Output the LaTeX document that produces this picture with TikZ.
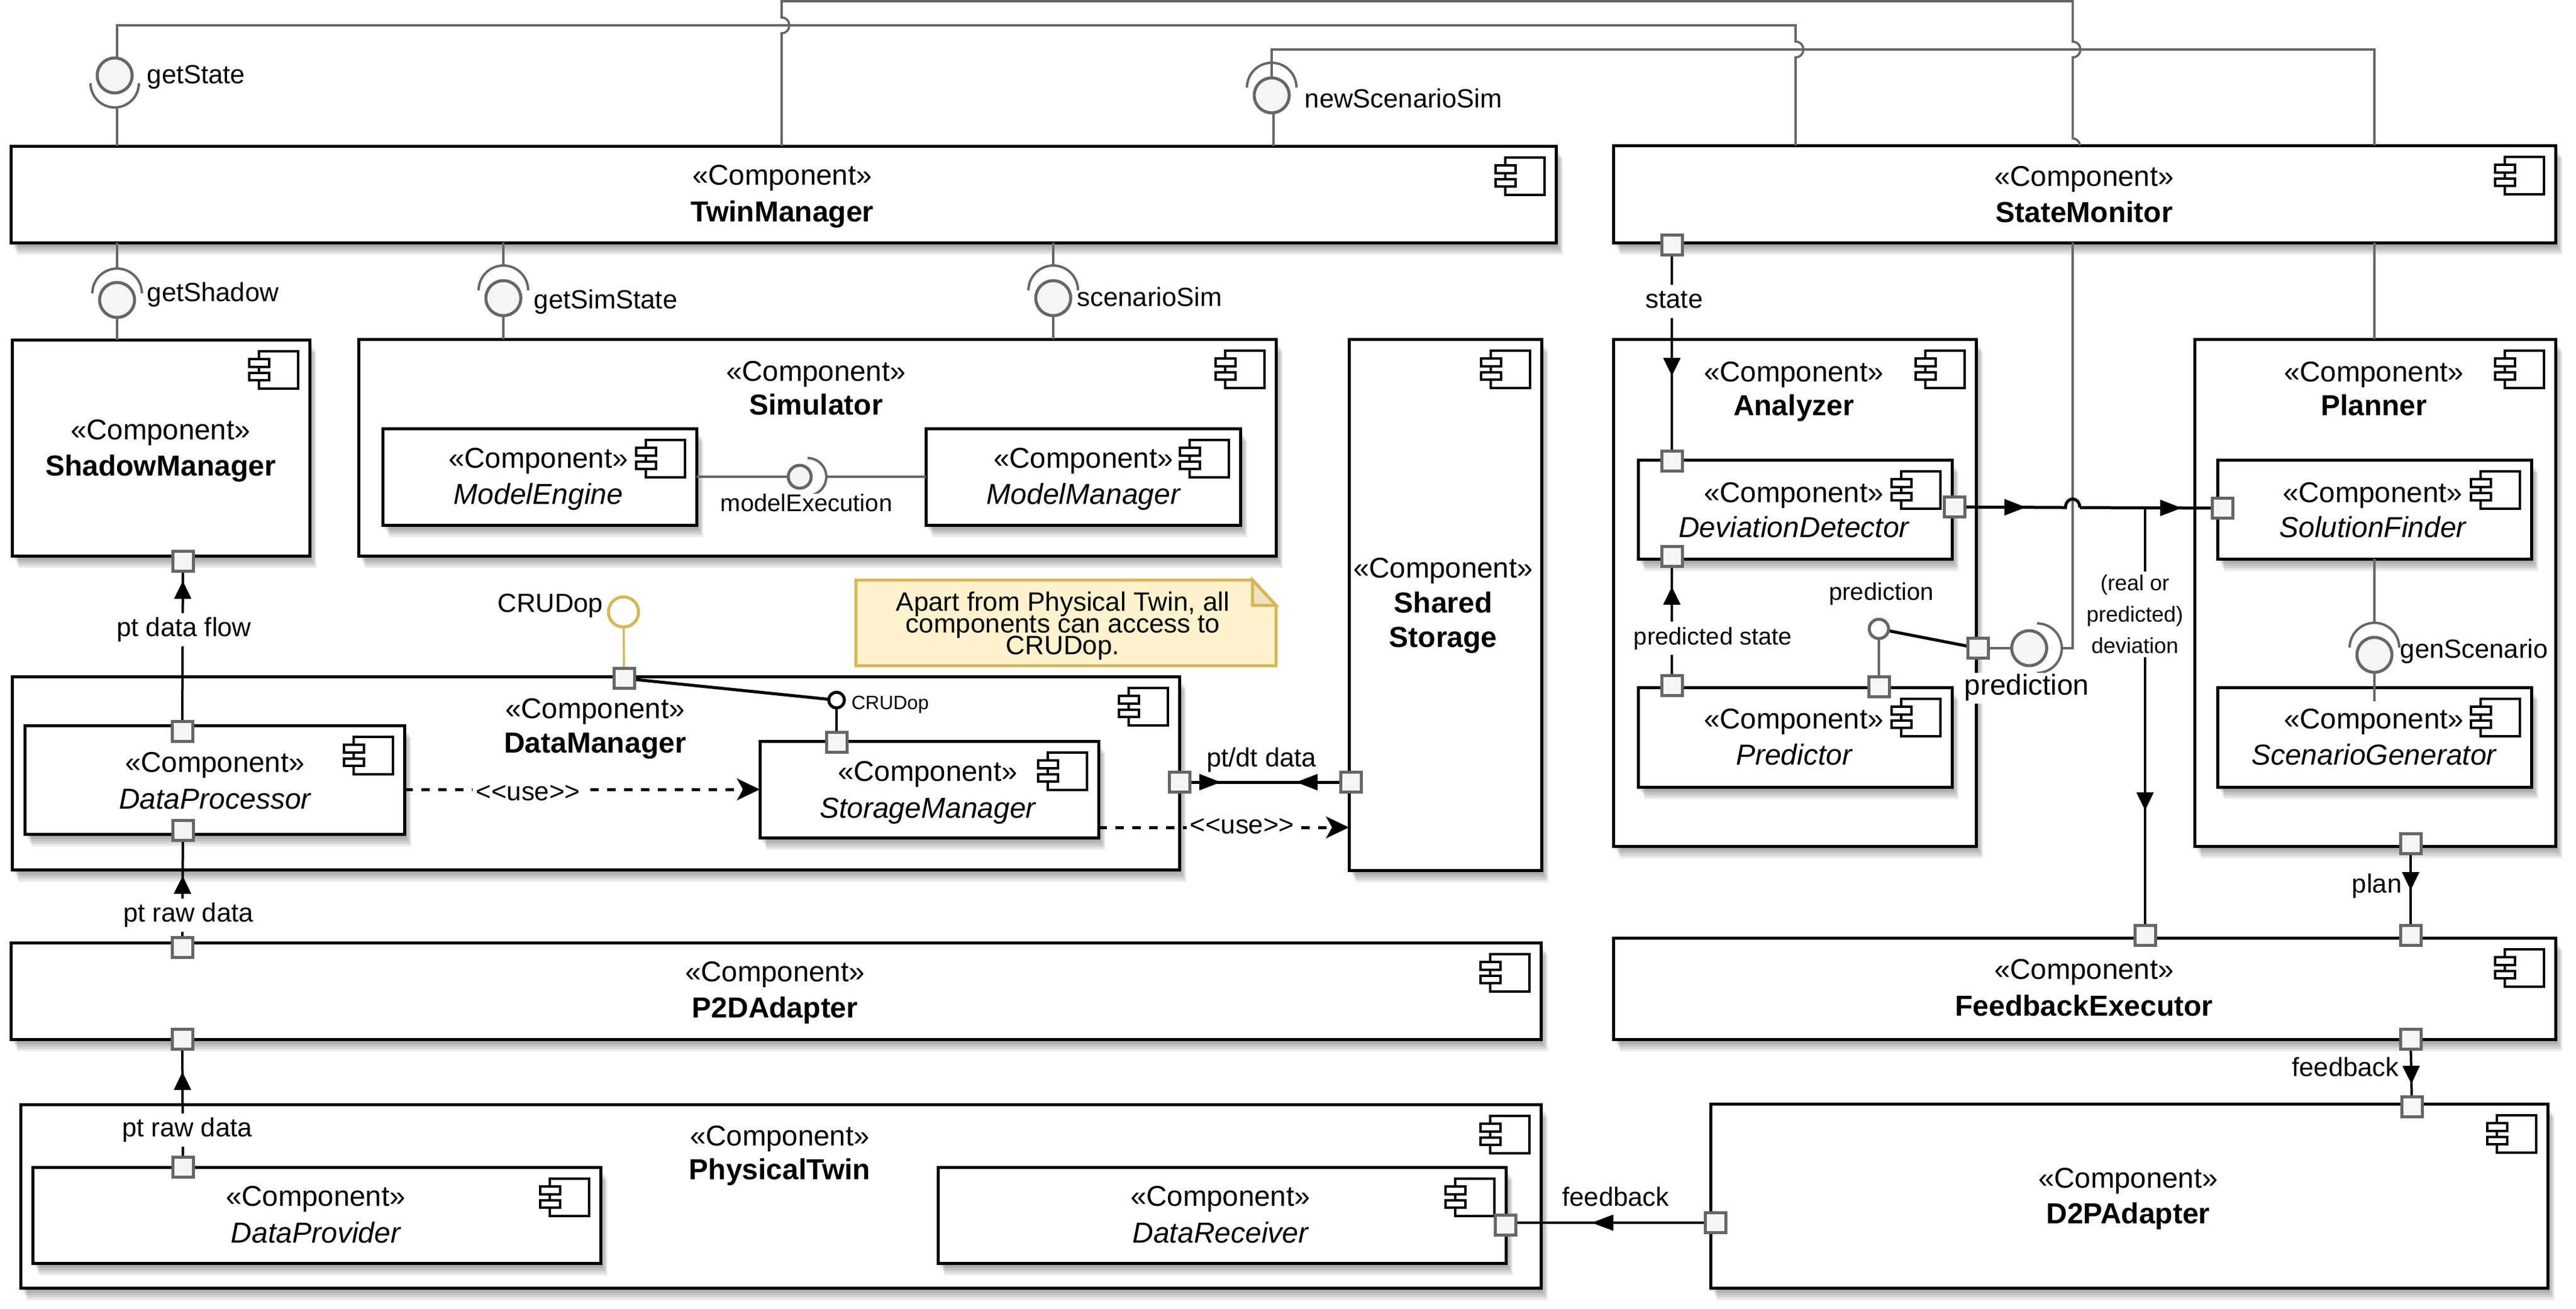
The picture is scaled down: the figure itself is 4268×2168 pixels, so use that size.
\documentclass[tikz,border=0pt]{standalone}
\usepackage{fontspec}
\setmainfont{Liberation Sans}
\usetikzlibrary{arrows.meta,shadows,decorations.markings}
\normallineskiplimit=-20pt
\lineskiplimit=-20pt
\definecolor{wiregrey}{HTML}{666666}
\definecolor{portfill}{HTML}{F5F5F5}
\definecolor{notefill}{HTML}{FFF2CC}
\definecolor{notefold}{HTML}{EDE2C2}
\definecolor{noteline}{HTML}{D6B656}
\pgfdeclarelayer{conn}
\pgfdeclarelayer{lab}
\pgfdeclarelayer{port}
\pgfsetlayers{main,conn,lab,port}
\tikzset{
  softshadow/.style={general shadow={fill=black,fill opacity=.085,draw=none,shadow xshift=#1*.55pt,shadow yshift=-#1*1pt}},
  compbox/.style={shape=rectangle,draw=black,fill=white,line width=1.25pt,inner sep=0pt,outer sep=0pt,
    softshadow=1,softshadow=2,softshadow=3,softshadow=4,softshadow=5},
  iconline/.style={draw=black,fill=white,line width=1pt},
  stereo/.style={anchor=base,inner sep=0pt,font=\fontsize{11.85}{14}\selectfont},
  cname/.style={anchor=base,inner sep=0pt,font=\fontsize{12}{14}\selectfont},
  portbox/.style={shape=rectangle,draw=wiregrey,fill=portfill,line width=1.25pt,minimum width=8.5pt,minimum height=8.25pt,inner sep=0pt,outer sep=0pt},
  ball/.style={shape=circle,draw=wiregrey,fill=portfill,line width=1.25pt,minimum size=14.5pt,inner sep=0pt,outer sep=0pt},
  wire/.style={draw=wiregrey,line width=.9pt},
  socket/.style={draw=wiregrey,line width=1pt},
  flow/.style={draw=black,line width=1pt},
  thickflow/.style={draw=black,line width=1.25pt},
  vtip/.style={postaction={decorate,decoration={markings,mark=at position #1 with {\arrow{Triangle[length=7.5pt,width=7pt]}}}}},
  htip/.style={postaction={decorate,decoration={markings,mark=at position #1 with {\arrow{Triangle[length=9pt,width=6.5pt]}}}}},
  usearrow/.style={draw=black,line width=1.25pt,dash pattern=on 3.6pt off 3.4pt,-{Stealth[length=9.5pt,width=9pt,inset=2.5pt]}},
  lab/.style={anchor=base,inner sep=0pt,font=\fontsize{10.9}{13}\selectfont},
  labw/.style={lab,fill=white,inner sep=1.5pt,text height=8pt,text depth=2.7pt},
  lableft/.style={lab,anchor=base west},
}
\newcommand{\compicon}[2]{%
  \begin{scope}[shift={(#1,#2)}]
    \draw[iconline] (-84,19) rectangle (-19,81);
    \draw[iconline] (-100,32) rectangle (-67,45);
    \draw[iconline] (-100,55) rectangle (-67,67);
  \end{scope}}
\newcommand{\comp}[9]{%
  \node[compbox,minimum width={(#4-#2)*.25pt},minimum height={(#5-#3)*.25pt}] (#1) at ({(#2+#4)/2},{(#3+#5)/2}) {};
  \compicon{#4}{#3}
  \node[stereo] (#1-s) at (#6,#7) {«Component»};
  \node[cname] (#1-n) at (#6,#8) {#9};}
\newcommand{\prt}[3]{\node[portbox] (#1) at (#2,#3) {};}
\begin{document}
\begin{tikzpicture}[x=.25pt,y=-.25pt]
\useasboundingbox (0,0) rectangle (4268,2168);
\fill[white] (0,0) rectangle (4268,2168);

% ---- outer components
\comp{twin}{18}{242}{2578}{402}{1296}{306}{367}{\bfseries TwinManager}
\comp{monitor}{2673}{241}{4234}{402}{3453}{308}{368}{\bfseries StateMonitor}
\comp{shadow}{20}{563}{513}{921}{266}{728}{788}{\bfseries ShadowManager}
\comp{sim}{594}{562}{2114}{921}{1352}{631}{687}{\bfseries Simulator}
\comp{engine}{634}{710}{1154}{870}{892}{775}{835}{\itshape ModelEngine}
\comp{mmgr}{1534}{710}{2055}{870}{1795}{775}{835}{\itshape ModelManager}
\comp{shared}{2235}{562}{2554}{1442}{2391}{957}{1015}{\bfseries Shared}
\node[cname] (shared-n2) at (2391,1072) {\bfseries Storage};
\comp{dm}{20}{1121}{1954}{1441}{986}{1190}{1247}{\bfseries DataManager}
\comp{dp}{41}{1202}{670}{1382}{356}{1279}{1340}{\itshape DataProcessor}
\comp{store}{1259}{1228}{1820}{1388}{1537}{1294}{1355}{\itshape StorageManager}
\comp{p2d}{18}{1562}{2553}{1722}{1284}{1626}{1686}{\bfseries P2DAdapter}
\comp{pt}{34}{1830}{2553}{2134}{1292}{1898}{1954}{\bfseries PhysicalTwin}
\comp{dprov}{54}{1934}{995}{2093}{523}{1998}{2059}{\itshape DataProvider}
\comp{drecv}{1554}{1934}{2495}{2093}{2022}{1998}{2059}{\itshape DataReceiver}
\comp{analyzer}{2673}{562}{3274}{1402}{2972}{632}{688}{\bfseries Analyzer}
\comp{dd}{2714}{762}{3234}{926}{2972}{832}{890}{\itshape DeviationDetector}
\comp{predictor}{2714}{1139}{3234}{1304}{2972}{1207}{1267}{\itshape Predictor}
\comp{planner}{3636}{562}{4234}{1402}{3933}{632}{688}{\bfseries Planner}
\comp{sf}{3674}{762}{4194}{926}{3931}{832}{890}{\itshape SolutionFinder}
\comp{sg}{3674}{1139}{4194}{1304}{3933}{1207}{1267}{\itshape ScenarioGenerator}
\comp{fe}{2673}{1554}{4234}{1722}{3453}{1622}{1683}{\bfseries FeedbackExecutor}
\comp{d2p}{2834}{1829}{4221}{2134}{3526}{1968}{2027}{\bfseries D2PAdapter}

% ---- note
\filldraw[fill=notefill,draw=noteline,line width=1.25pt] (1418,961) -- (2075,961) -- (2114,1003) -- (2114,1103) -- (1418,1103) -- cycle;
\filldraw[fill=notefold,draw=noteline,line width=1.25pt] (2075,961) -- (2075,1003) -- (2114,1003) -- cycle;
\node[align=center,inner sep=0pt,font=\fontsize{11}{9}\selectfont] (note) at (1761,1037) {Apart from Physical Twin, all\\components can access to\\CRUDop.};

% ---- ports and interface balls
\begin{pgfonlayer}{port}
\prt{shadow-b}{303}{930}
\prt{dp-t}{302}{1212}
\prt{dp-b}{303}{1376}
\prt{p2d-t}{302}{1570}
\prt{p2d-b}{302}{1722}
\prt{dprov-t}{303}{1934}
\prt{drecv-r}{2494}{2030}
\prt{d2p-l}{2842}{2026}
\prt{d2p-t}{3996}{1834}
\prt{fe-t1}{3554}{1550}
\prt{fe-t2}{3994}{1550}
\prt{fe-b}{3994}{1722}
\prt{planner-b}{3994}{1398}
\prt{monitor-b}{2770}{406}
\prt{dd-t}{2770}{764}
\prt{dd-r}{3238}{840}
\prt{dd-b}{2770}{922}
\prt{pred-t1}{2770}{1136}
\prt{pred-t2}{3113}{1138}
\prt{analyzer-r}{3277}{1074}
\prt{sf-l}{3682}{842}
\prt{dm-t}{1034}{1124}
\prt{store-t}{1386}{1230}
\prt{dm-r}{1954}{1296}
\prt{shared-l}{2238}{1296}
\node[ball] (getstate) at (190,125) {};
\node[ball] (getshadow) at (194,497) {};
\node[ball] (getsim) at (834,494) {};
\node[ball] (scensim) at (1745,494) {};
\node[ball] (newscen) at (2107,158) {};
\node[ball] (genscen) at (3934,1085) {};
\node[ball] (predball) at (3362,1074) {};
\node[ball,minimum size=9.5pt] (modelball) at (1325,790) {};
\node[ball,minimum size=8pt,fill=white] (predsmall) at (3113,1042) {};
\node[ball,minimum size=12.5pt,fill=white,draw=noteline] (crud) at (1033,1014) {};
\node[ball,minimum size=6.5pt,fill=white,draw=black] (crudsmall) at (1386,1160) {};
\end{pgfonlayer}

% ---- connectors
\begin{pgfonlayer}{conn}
% sockets
\draw[socket] (150,138) arc[start angle=180,end angle=0,radius=40];
\draw[socket] (153,486) arc[start angle=180,end angle=360,radius=41];
\draw[socket] (793,481) arc[start angle=180,end angle=360,radius=41];
\draw[socket] (1704,481) arc[start angle=180,end angle=360,radius=41];
\draw[socket] (2066,145) arc[start angle=180,end angle=360,radius=41];
\draw[socket] (3893,1073) arc[start angle=180,end angle=360,radius=41];
\draw[socket] (3375,1033) arc[start angle=-90,end angle=90,radius=41];
\draw[socket] (1338,759) arc[start angle=-90,end angle=90,radius=31];
% grey assembly wires
\coordinate (twin-a) at (194,242);
\coordinate (twin-b) at (1295,242);
\coordinate (twin-c) at (2110,242);
\coordinate (mon-a) at (2975,241);
\coordinate (mon-b) at (3446,241);
\coordinate (mon-c) at (3934,241);
\coordinate (getstate-sock) at (194,178);
\draw[wire] (twin-a) -- (getstate-sock);
\draw[wire] (getstate.north -| twin-a) -- (194,42) -- (2975,42) -- (2975,69) .. controls (2992,69) and (2992,95) .. (2975,95) -- (mon-a);
\draw[wire] (twin-b) -- (1295,55) .. controls (1312,55) and (1312,29) .. (1295,29) -- (1295,2) -- (3434,2) -- (3434,69) .. controls (3451,69) and (3451,95) .. (3434,95) -- (3434,229) .. controls (3441,230) and (3446,235) .. (mon-b);
\draw[wire] (twin-c) -- (2110,187);
\draw[wire] (newscen.center) -- (2107,82) -- (3934,82) -- (mon-c);
\coordinate (twin-d) at (194,402);
\coordinate (twin-e) at (834,402);
\coordinate (twin-f) at (1745,402);
\coordinate (shadow-t) at (194,563);
\coordinate (sim-t1) at (834,562);
\coordinate (sim-t2) at (1745,562);
\draw[wire] (twin-d) -- (194,445);
\draw[wire] (getshadow.center) -- (shadow-t);
\draw[wire] (twin-e) -- (834,440);
\draw[wire] (getsim.center) -- (sim-t1);
\draw[wire] (twin-f) -- (1745,440);
\draw[wire] (scensim.center) -- (sim-t2);
\coordinate (mon-d) at (3934,402);
\coordinate (planner-t) at (3934,562);
\draw[wire] (mon-d) -- (planner-t);
\coordinate (mon-e) at (3434,402);
\draw[wire] (mon-e) -- (3434,1074) -- (3416,1074);
\draw[wire] (analyzer-r.center) -- (predball.center);
\draw[wire] (predsmall.center) -- (pred-t2.center);
\coordinate (sf-b) at (3934,926);
\coordinate (sg-in) at (3934,1162);
\draw[wire] (sf-b) -- (3934,1032);
\draw[wire] (genscen.center) -- (sg-in);
\coordinate (engine-r) at (1154,790);
\coordinate (mmgr-l) at (1534,790);
\draw[wire] (engine-r) -- (modelball.center);
\draw[wire] (1369,790) -- (mmgr-l);
\draw[draw=noteline,line width=.9pt] (crud.center) -- (dm-t.center);
% black flows
\draw[flow,vtip=62.4pt] (dp-t.center) -- (shadow-b.center);
\draw[flow,vtip=29.75pt] (p2d-t.center) -- (dp-b.center);
\draw[flow,vtip=39.5pt] (dprov-t.center) -- (p2d-b.center);
\draw[flow,vtip=54.25pt] (monitor-b.center) -- (dd-t.center);
\draw[flow,vtip=41pt] (pred-t1.center) -- (dd-b.center);
\draw[flow,vtip=19.25pt] (planner-b.center) -- (fe-t2.center);
\draw[flow,vtip=18.5pt] (fe-b.center) -- (d2p-t.center);
\draw[flow,htip=51.25pt] (d2p-l.center) -- (d2p-l.center -| drecv-r.center);
\draw[thickflow,htip=17.25pt] (dm-r.center) -- (shared-l.center);
\draw[thickflow,htip=22.75pt] (shared-l.center) -- (dm-r.center);
\draw[thickflow] (dm-t.center) -- (crudsmall.center);
\draw[flow] (crudsmall.center) -- (store-t.center);
\draw[thickflow] (predsmall.center) -- (analyzer-r.center);
\coordinate (jump-a) at (3422,841);
\coordinate (jump-b) at (3446,841);
\coordinate (branch) at (3554,841);
\draw[thickflow,htip=29.75pt] (dd-r.center) -- (jump-a) .. controls (3423,822) and (3445,822) .. (jump-b);
\draw[thickflow,htip=42.25pt] (jump-b) -- (sf-l.center);
\draw[flow,vtip=125.5pt] (branch) -- (branch -| fe-t1.center) -- (fe-t1.center);
% use dependencies
\coordinate (dp-r) at (670,1308);
\coordinate (store-l) at (1259,1308);
\coordinate (store-r) at (1820,1371);
\coordinate (shared-w) at (2235,1371);
\draw[usearrow] (dp-r) -- (store-l);
\draw[usearrow] (store-r) -- (shared-w);
\end{pgfonlayer}

% ---- labels
\begin{pgfonlayer}{lab}
\node[lableft] (l-getstate) at (243,138) {getState};
\node[lableft] (l-getshadow) at (243,499) {getShadow};
\node[lableft] (l-getsim) at (884,511) {getSimState};
\node[lableft] (l-scensim) at (1784,507) {scenarioSim};
\node[lableft] (l-newscen) at (2161,178) {newScenarioSim};
\node[lableft] (l-genscen) at (3976,1090) {genScenario};
\node[lab,font=\fontsize{10}{12}\selectfont,fill=white,inner sep=0pt] (l-model) at (1336,847) {modelExecution};
\node[lab] (l-crud) at (912,1014) {CRUDop};
\node[lableft,font=\fontsize{8}{10}\selectfont] (l-crud2) at (1410,1175) {CRUDop};
\node[labw] (l-flow) at (305,1054) {pt data flow};
\node[labw] (l-raw1) at (312,1527) {pt raw data};
\node[labw] (l-raw2) at (310,1883) {pt raw data};
\node[labw] (l-use1) at (875,1326) {<{}<use>{}>};
\node[labw] (l-use2) at (2058,1381) {<{}<use>{}>};
\node[lab] (l-ptdt) at (2090,1270) {pt/dt data};
\node[labw] (l-state) at (2774,510) {state};
\node[labw,font=\fontsize{10}{12}\selectfont] (l-pstate) at (2838,1068) {predicted state};
\node[lab,font=\fontsize{10}{12}\selectfont] (l-pred) at (3117,994) {prediction};
\node[labw,font=\fontsize{11.9}{14}\selectfont,inner sep=1pt] (l-predbig) at (3358,1151) {prediction};
\node[align=center,fill=white,inner sep=1.5pt,font=\fontsize{9}{13}\selectfont] (l-dev) at (3537,1018) {(real or\\predicted)\\deviation};
\node[lab] (l-plan) at (3938,1479) {plan};
\node[labw,inner xsep=0pt] (l-fb2) at (3886,1783) {feedback};
\node[lab] (l-fb1) at (2677,1998) {feedback};
\end{pgfonlayer}
\end{tikzpicture}
\end{document}
